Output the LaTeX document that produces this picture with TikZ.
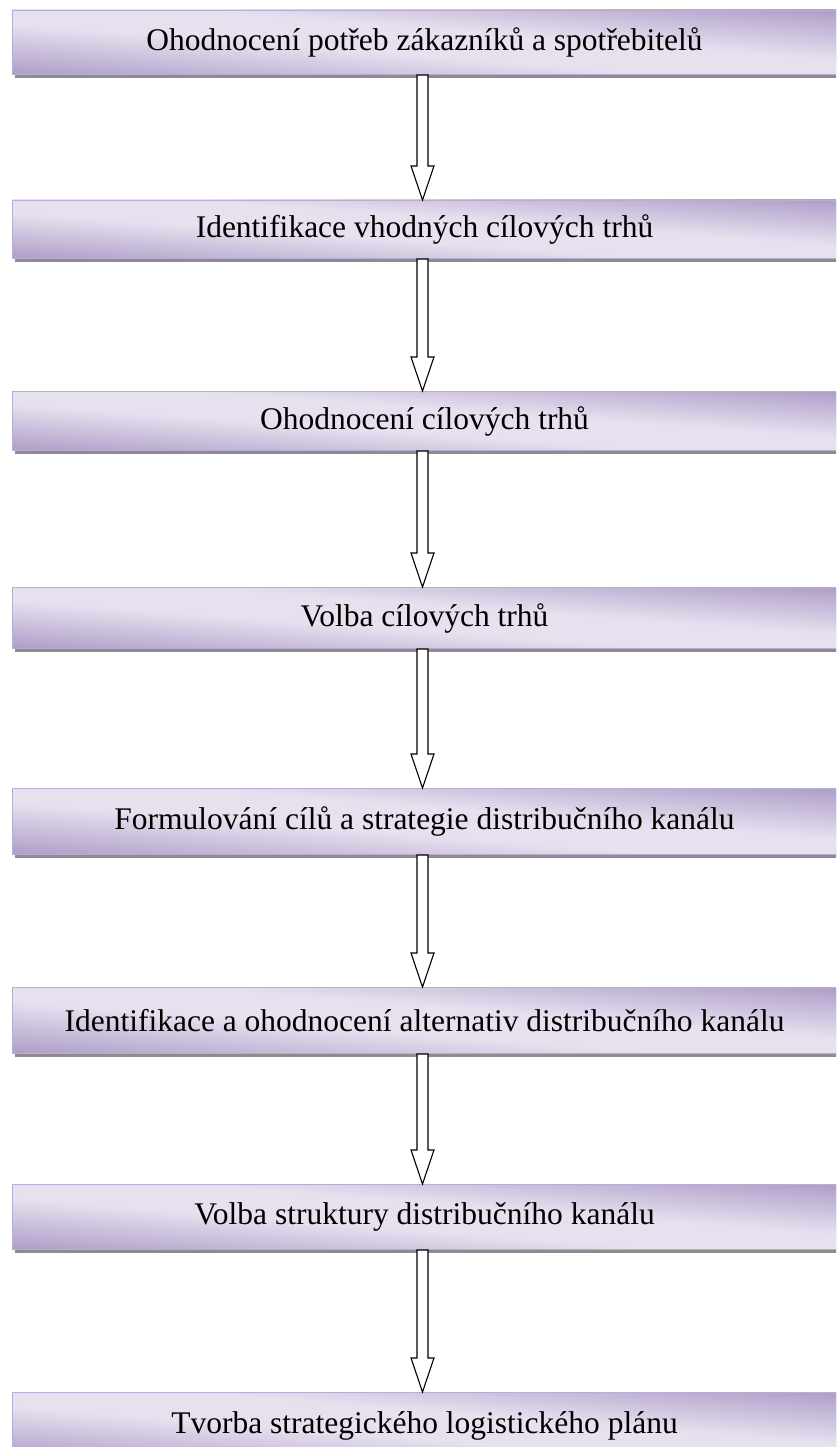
\documentclass[tikz,border=0pt]{standalone}
\usepackage{fontspec}
\setmainfont{Liberation Serif}
\usetikzlibrary{calc}
\definecolor{boxdk}{RGB}{172,155,199}
\definecolor{boxlt}{RGB}{231,225,239}
\definecolor{boxbd}{RGB}{186,172,210}
\definecolor{shadowcol}{RGB}{140,140,140}
\pgfdeclareverticalshading{boxshade}{100bp}{color(0bp)=(boxdk); color(25bp)=(boxdk); color(45bp)=(boxlt); color(55bp)=(boxlt); color(75bp)=(boxdk); color(100bp)=(boxdk)}
\newcommand\stagebg[2]{%
  \begin{scope}
    \clip (12,-#1) rectangle ++(824,-#2);
    \pgfmathsetmacro\myslant{-(#2/2)/412}
    \begin{scope}[transform canvas={shift={(424,-#1-#2/2)}, yslant=\myslant}]
      \shade[shading=boxshade] (-420,-#2-2) rectangle (420,#2+2);
    \end{scope}
  \end{scope}}
\tikzset{
  stagebox/.style={rectangle, draw=boxbd, line width=1pt,
    anchor=north west, minimum width=824pt, inner sep=0pt,
    font=\fontsize{31.5}{36}\selectfont, text=black},
  boxshadow/.style={fill=shadowcol, draw=none},
  bigarrow/.style={draw=black, fill=white, line width=1.1pt, line join=miter}
}
\begin{document}
\begin{tikzpicture}[x=1pt,y=1pt]
\useasboundingbox (0,0) rectangle (836,-1447);
\clip (0,0) rectangle (836,-1447);
% shadows
\foreach \b in {74,258,450,648,854,1053,1249} {
  \fill[boxshadow] (15,-\b) rectangle (840,-\b-4);
}
% box backgrounds
\stagebg{10}{64}
\stagebg{200}{58}
\stagebg{391}{59}
\stagebg{587}{61}
\stagebg{788}{66}
\stagebg{987}{66}
\stagebg{1184}{65}
\stagebg{1392}{66}
% boxes
\node[stagebox, minimum height=64pt] (b1) at (12,-10) {Ohodnocení potřeb zákazníků a spotřebitelů};
\node[stagebox, minimum height=58pt] (b2) at (12,-200) {Identifikace vhodných cílových trhů};
\node[stagebox, minimum height=59pt] (b3) at (12,-391) {Ohodnocení cílových trhů};
\node[stagebox, minimum height=61pt] (b4) at (12,-587) {Volba cílových trhů};
\node[stagebox, minimum height=66pt] (b5) at (12,-788) {Formulování cílů a strategie distribučního kanálu};
\node[stagebox, minimum height=66pt] (b6) at (12,-987) {Identifikace a ohodnocení alternativ distribučního kanálu};
\node[stagebox, minimum height=65pt] (b7) at (12,-1184) {Volba struktury distribučního kanálu};
\node[stagebox, minimum height=66pt] (b8) at (12,-1392) {Tvorba strategického logistického plánu};
% arrows
\foreach \a/\b in {b1/b2,b2/b3,b3/b4,b4/b5,b5/b6,b6/b7,b7/b8} {
  \draw[bigarrow] let \p1=($(\a.south)+(-2pt,0)$), \p2=($(\b.north)+(-2pt,0)$) in
    (\x1-5.5pt,\y1) -- (\x1+5.5pt,\y1) -- (\x1+5.5pt,\y2+34pt) -- (\x1+11.5pt,\y2+34pt)
    -- (\x1,\y2) -- (\x1-11.5pt,\y2+34pt) -- (\x1-5.5pt,\y2+34pt) -- cycle;
}
\end{tikzpicture}
\end{document}
